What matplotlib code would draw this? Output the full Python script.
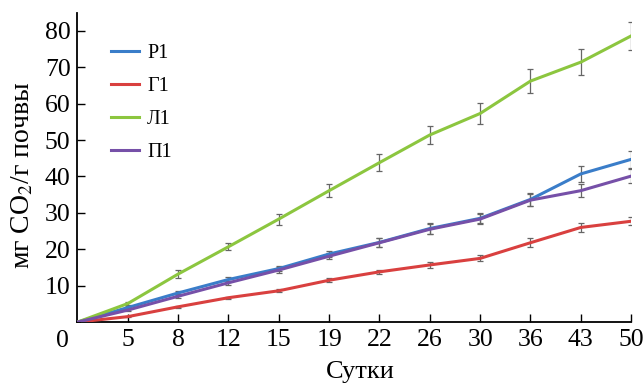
import matplotlib
matplotlib.use("Agg")
import matplotlib.pyplot as plt
import numpy as np

plt.rcParams['font.family'] = ['Liberation Serif', 'DejaVu Serif']
plt.rcParams['mathtext.fontset'] = 'stix'

days = ['0', '5', '8', '12', '15', '19', '22', '26', '30', '36', '43', '50']

r1 = [0, 4.0, 8.0, 11.7, 14.7, 18.7, 21.9, 25.7, 28.5, 33.7, 40.7, 44.7]
r1_err = [0, 0.3, 0.5, 0.6, 0.8, 0.9, 1.2, 1.4, 1.4, 1.7, 2.3, 2.3]
g1 = [0, 1.5, 4.2, 6.7, 8.6, 11.5, 13.8, 15.7, 17.5, 21.8, 26.0, 27.7]
g1_err = [0, 0.2, 0.3, 0.3, 0.4, 0.5, 0.6, 0.9, 0.8, 1.2, 1.3, 1.1]
l1 = [0, 5.1, 13.2, 20.7, 28.3, 36.1, 43.8, 51.4, 57.3, 66.2, 71.4, 78.6]
l1_err = [0, 0.4, 1.0, 0.9, 1.5, 1.8, 2.3, 2.6, 2.9, 3.3, 3.6, 3.9]
p1 = [0, 3.3, 7.1, 10.8, 14.3, 18.1, 21.8, 25.5, 28.3, 33.5, 36.1, 40.1]
p1_err = [0, 0.3, 0.5, 0.6, 0.8, 0.9, 1.2, 1.4, 1.4, 1.7, 1.7, 2.0]

series = [
    ('Р1', r1, r1_err, '#3a7dc9'),
    ('Г1', g1, g1_err, '#d9403f'),
    ('Л1', l1, l1_err, '#8cc63f'),
    ('П1', p1, p1_err, '#7650a8'),
]

fig = plt.figure(figsize=(6.44, 3.83), dpi=100)
ax = fig.add_axes([0.1203, 0.159, 0.8597, 0.808])

x = np.arange(len(days))
for name, y, err, col in series:
    eb = ax.errorbar(x, y, yerr=err, fmt='none', ecolor='#666666', elinewidth=0.9,
                     capsize=2.5, capthick=0.9, zorder=2)
    for c in eb[1]:
        c.set_clip_path(ax.patch)
for name, y, err, col in series:
    ax.plot(x, y, color=col, lw=2.2, label=name, zorder=3)

ax.set_xlim(0, len(days) - 1)
ax.set_ylim(0, 85)
ax.set_xticks(x[1:])
ax.set_xticklabels(days[1:])
ax.set_yticks(np.arange(10, 81, 10))
ax.tick_params(direction='in', length=6, width=1, labelsize=18.5, pad=5)
ax.text(-0.028, -0.025, days[0], transform=ax.transAxes, ha='center', va='top',
        fontsize=18.5)

for s in ['top', 'right']:
    ax.spines[s].set_visible(False)
for s in ['left', 'bottom']:
    ax.spines[s].set_linewidth(1.3)

ax.set_xlabel('Сутки', fontsize=19)
ax.xaxis.set_label_coords(0.51, -0.125)
ax.set_ylabel(r'мг CO$_2$/г почвы', fontsize=20, va='center')
ax.yaxis.set_label_coords(-0.1, 0.475)

ax.legend(loc='upper left', bbox_to_anchor=(0.043, 0.93), frameon=False,
          fontsize=14.5, handlelength=1.35, handletextpad=0.42,
          labelspacing=0.68, borderpad=0)

fig.savefig('out.png', dpi=100)
